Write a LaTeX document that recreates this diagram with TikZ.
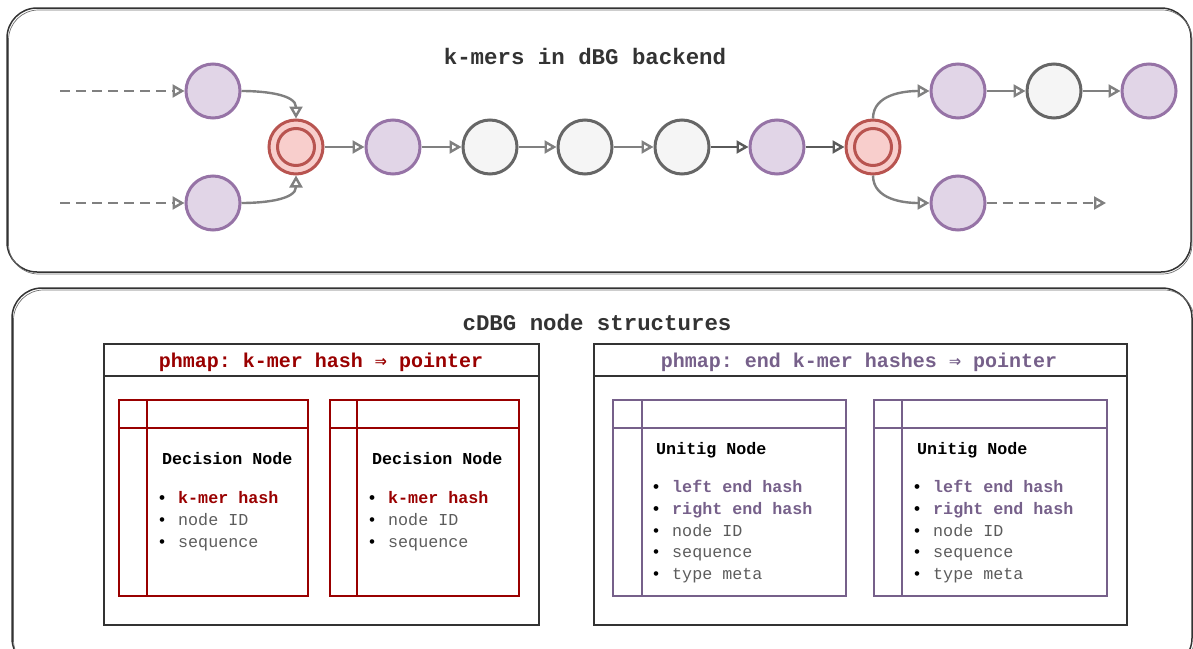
\documentclass[tikz,border=0pt]{standalone}
\usepackage{fontspec}
\setmonofont{Liberation Mono}
\newfontfamily\arrowfont{DejaVu Sans Mono}
\usetikzlibrary{arrows.meta}

\definecolor{purfill}{HTML}{E1D5E7}
\definecolor{purline}{HTML}{9673A6}
\definecolor{greyfill}{HTML}{F5F5F5}
\definecolor{greyline}{HTML}{666666}
\definecolor{redfill}{HTML}{F8CECC}
\definecolor{redline}{HTML}{B85450}
\definecolor{edgegrey}{HTML}{808080}
\definecolor{edgedark}{HTML}{5A5A5A}
\definecolor{panelline}{HTML}{333333}
\definecolor{redtxt}{HTML}{990000}
\definecolor{purtxt}{HTML}{76608A}
\definecolor{itemgrey}{HTML}{5C5C5C}

\newcommand{\bull}{\llap{\color{black}\textbullet\hspace{11pt}}}
\newcommand{\imp}{{\arrowfont\bfseries ⇒}}

\begin{document}
\begin{tikzpicture}[x=1pt,y=-1pt]
    \tikzstyle{every node}+=[inner sep=0pt]
    \tikzstyle{kmer}=[circle, minimum size=54pt, line width=3pt]
    \tikzstyle{purk}=[kmer, draw=purline, fill=purfill]
    \tikzstyle{greyk}=[kmer, draw=greyline, fill=greyfill]
    \tikzstyle{redk}=[kmer, draw=redline, fill=redfill]
    \tikzstyle{redin}=[circle, minimum size=37pt, line width=3pt, draw=redline]
    \tikzstyle{edge}=[draw=edgegrey, line width=2.4pt, -{Triangle[open,length=12pt,width=13pt]}]
    \tikzstyle{darkedge}=[edge, draw=edgedark]
    \tikzstyle{dashedge}=[edge, dash pattern=on 10pt off 6pt]
    \tikzstyle{panel}=[draw=panelline, line width=1.5pt, rounded corners=30pt]
    \tikzstyle{panelshade}=[draw=panelline!70, line width=0.7pt, rounded corners=30pt]
    \tikzstyle{paneltitle}=[font=\ttfamily\bfseries\fontsize{22.4}{26}\selectfont, text=panelline]
    \tikzstyle{mapbox}=[draw=panelline, line width=1.5pt]
    \tikzstyle{maptitle}=[font=\ttfamily\bfseries\fontsize{20}{24}\selectfont]
    \tikzstyle{decbox}=[draw=redtxt, line width=1.5pt]
    \tikzstyle{unibox}=[draw=purtxt, line width=1.5pt]
    \tikzstyle{boxtitle}=[anchor=base west, font=\ttfamily\bfseries\fontsize{16.7}{20}\selectfont]
    \tikzstyle{item}=[anchor=base west, font=\ttfamily\fontsize{16.7}{20}\selectfont, text=itemgrey]
    \tikzstyle{keyitem}=[item, font=\ttfamily\bfseries\fontsize{16.7}{20}\selectfont]

    \useasboundingbox (0,0) rectangle (1193,648);
    \clip (0,0) rectangle (1193,648);

    \draw [panel] (7,8) rectangle (1191,272);
    \draw [panelshade] (8.5,10) rectangle (1192,274);
    \node [paneltitle] (dbgtitle) at (585,56) {k-mers in dBG backend};

    \node [purk] (a1) at (213,91) {};
    \node [purk] (a2) at (213,203) {};
    \node [redk] (r1) at (296,147) {};
    \node [redin] (r1in) at (296,147) {};
    \node [purk] (p1) at (393,147) {};
    \node [greyk] (g1) at (490,147) {};
    \node [greyk] (g2) at (585,147) {};
    \node [greyk] (g3) at (682,147) {};
    \node [purk] (p2) at (777,147) {};
    \node [redk] (r2) at (873,147) {};
    \node [redin] (r2in) at (873,147) {};
    \node [purk] (p3) at (958,91) {};
    \node [greyk] (g4) at (1054,91) {};
    \node [purk] (p4) at (1149,91) {};
    \node [purk] (p5) at (958,203) {};
    \coordinate (in1) at (60,91);
    \coordinate (in2) at (60,203);
    \coordinate (out1) at (1106,203);

    \draw [dashedge] (in1) -- (a1);
    \draw [dashedge] (in2) -- (a2);
    \draw [edge] (a1.east) to[out=0, in=90] (r1.north);
    \draw [edge] (a2.east) to[out=0, in=-90] (r1.south);
    \draw [edge] (r1) -- (p1);
    \draw [edge] (p1) -- (g1);
    \draw [edge] (g1) -- (g2);
    \draw [edge] (g2) -- (g3);
    \draw [darkedge] (g3) -- (p2);
    \draw [darkedge] (p2) -- (r2);
    \draw [edge] (r2.north) to[out=90, in=180] (p3.west);
    \draw [edge] (r2.south) to[out=-90, in=180] (p5.west);
    \draw [edge] (p3) -- (g4);
    \draw [edge] (g4) -- (p4);
    \draw [dashedge] (p5) -- (out1);

    \draw [panel] (12,288) rectangle (1192,668);
    \draw [panelshade] (13.5,290) rectangle (1194,670);
    \node [paneltitle] (cdbgtitle) at (597,322) {cDBG node structures};

    \draw [mapbox] (104,344) rectangle (539,625);
    \draw [mapbox] (104,376) -- (539,376);
    \node [maptitle, text=redtxt] (kmap) at (321,362) {phmap: k-mer hash \imp{} pointer};

    \draw [decbox] (119,400) rectangle (308,596);
    \draw [decbox] (119,428) -- (308,428);
    \draw [decbox] (147,400) -- (147,596);
    \node [boxtitle] (dec1) at (162,464) {Decision Node};
    \node [keyitem, text=redtxt] (dec1a) at (178,503) {\bull k-mer hash};
    \node [item] (dec1b) at (178,525) {\bull node ID};
    \node [item] (dec1c) at (178,547) {\bull sequence};

    \draw [decbox] (330,400) rectangle (519,596);
    \draw [decbox] (330,428) -- (519,428);
    \draw [decbox] (357,400) -- (357,596);
    \node [boxtitle] (dec2) at (372,464) {Decision Node};
    \node [keyitem, text=redtxt] (dec2a) at (388,503) {\bull k-mer hash};
    \node [item] (dec2b) at (388,525) {\bull node ID};
    \node [item] (dec2c) at (388,547) {\bull sequence};

    \draw [mapbox] (594,344) rectangle (1127,625);
    \draw [mapbox] (594,376) -- (1127,376);
    \node [maptitle, text=purtxt] (umap) at (859,362) {phmap: end k-mer hashes \imp{} pointer};

    \draw [unibox] (613,400) rectangle (846,596);
    \draw [unibox] (613,428) -- (846,428);
    \draw [unibox] (642,400) -- (642,596);
    \node [boxtitle] (uni1) at (656,454) {Unitig Node};
    \node [keyitem, text=purtxt] (uni1a) at (672,492) {\bull left end hash};
    \node [keyitem, text=purtxt] (uni1b) at (672,514) {\bull right end hash};
    \node [item] (uni1c) at (672,536) {\bull node ID};
    \node [item] (uni1d) at (672,557) {\bull sequence};
    \node [item] (uni1e) at (672,579) {\bull type meta};

    \draw [unibox] (874,400) rectangle (1107,596);
    \draw [unibox] (874,428) -- (1107,428);
    \draw [unibox] (902,400) -- (902,596);
    \node [boxtitle] (uni2) at (917,454) {Unitig Node};
    \node [keyitem, text=purtxt] (uni2a) at (933,492) {\bull left end hash};
    \node [keyitem, text=purtxt] (uni2b) at (933,514) {\bull right end hash};
    \node [item] (uni2c) at (933,536) {\bull node ID};
    \node [item] (uni2d) at (933,557) {\bull sequence};
    \node [item] (uni2e) at (933,579) {\bull type meta};
\end{tikzpicture}
\end{document}
